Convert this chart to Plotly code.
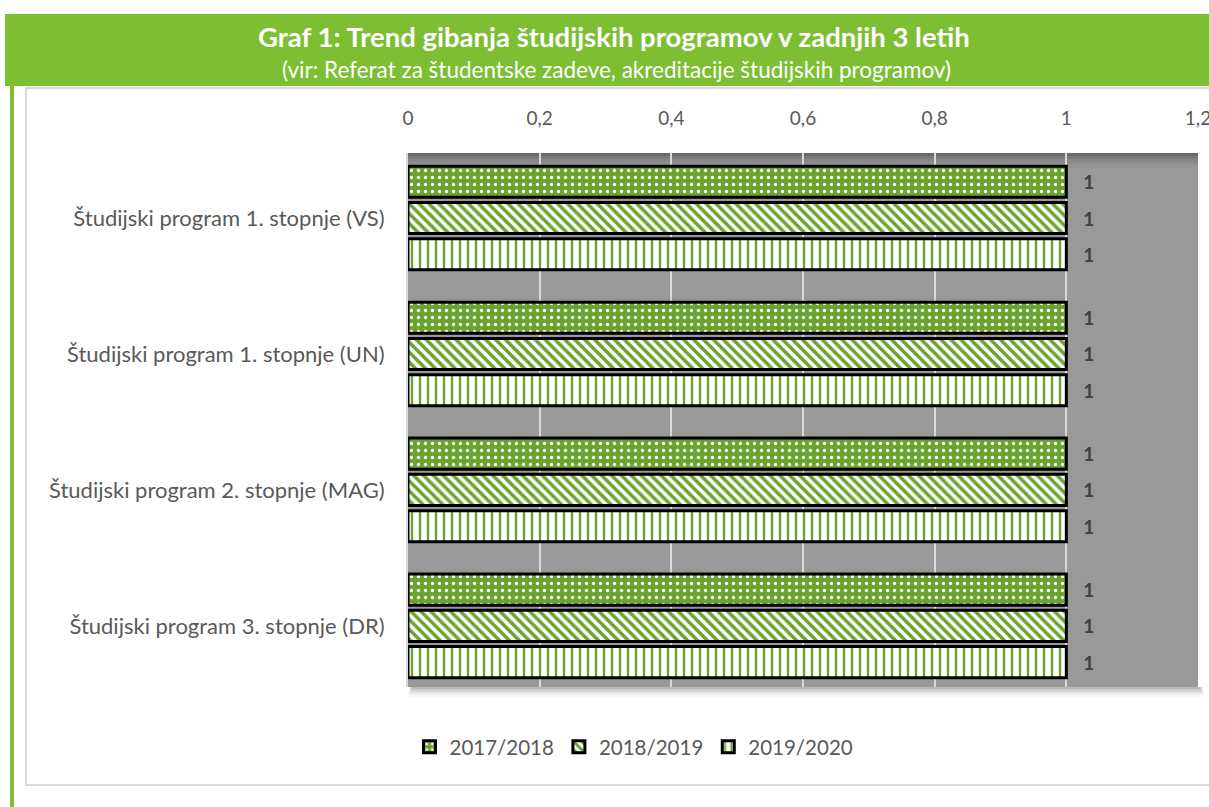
import plotly.graph_objects as go

categories = [
    "Študijski program 1. stopnje (VS)",
    "Študijski program 1. stopnje (UN)",
    "Študijski program 2. stopnje (MAG)",
    "Študijski program 3. stopnje (DR)",
]
series_names = ["2017/2018", "2018/2019", "2019/2020"]
values_2017 = [1, 1, 1, 1]
values_2018 = [1, 1, 1, 1]
values_2019 = [1, 1, 1, 1]
x_ticks = [0, 0.2, 0.4, 0.6, 0.8, 1.0, 1.2]
x_tick_labels = ["0", "0,2", "0,4", "0,6", "0,8", "1", "1,2"]

GREEN = "#6aa42e"
HEADER_GREEN = "#7dbe32"
TEXT = "#595959"
FONT = "Lato"

# figure geometry in page pixels (body margin removed via post_script)
W, H = 1209, 807
L, R, T, B = 408, 11, 153, 120
PW, PH = W - L - R, H - T - B


def px(x):
    return (x - L) / PW


def py(y):
    return 1 - (y - T) / PH


series_values = [values_2017, values_2018, values_2019]
patterns = [
    dict(shape=".", fgcolor="white", bgcolor=GREEN, size=7, solidity=0.18, fillmode="replace"),
    dict(shape="\\", fgcolor=GREEN, bgcolor="white", size=7, solidity=0.5, fillmode="replace"),
    dict(shape="|", fgcolor=GREEN, bgcolor="white", size=8, solidity=0.3, fillmode="replace"),
]
base_colors = [GREEN, "white", "white"]

fig = go.Figure()
for name, vals, pat, bc in zip(series_names, series_values, patterns, base_colors):
    fig.add_trace(go.Bar(
        y=categories, x=vals, name=name, orientation="h",
        marker=dict(color=bc, pattern=pat, line=dict(color="black", width=3)),
        text=vals, texttemplate="\u00a0\u00a0\u00a0%{x}", textposition="outside",
        textfont=dict(family=FONT, size=19, color="#404040", weight="bold"),
        cliponaxis=False,
    ))

shapes = [
    dict(type="rect", xref="paper", yref="paper", x0=px(26), x1=px(1225), y0=py(785), y1=py(88),
         line=dict(color="#d9d9d9", width=2), fillcolor="rgba(0,0,0,0)", layer="below"),
    dict(type="rect", xref="paper", yref="paper", x0=px(5), x1=px(1225), y0=py(86), y1=py(14),
         line=dict(width=0), fillcolor=HEADER_GREEN, layer="below"),
    dict(type="rect", xref="paper", yref="paper", x0=px(10), x1=px(14), y0=py(815), y1=py(86),
         line=dict(width=0), fillcolor=HEADER_GREEN, layer="below"),
]
# soft drop shadow below / right of the plot area
for i, a in enumerate([0.10, 0.08, 0.06, 0.04, 0.03]):
    shapes.append(dict(type="rect", xref="paper", yref="paper",
                       x0=px(412 - i), x1=px(1200 + i), y0=py(687 + 2 + 2 * i), y1=py(687),
                       line=dict(width=0), fillcolor=f"rgba(0,0,0,{a})", layer="below"))
# inner top shading of the plot area
for i, a in enumerate([0.12, 0.09, 0.06, 0.04, 0.02]):
    shapes.append(dict(type="rect", xref="paper", yref="paper",
                       x0=0, x1=1, y0=py(153 + 3 * (i + 1)), y1=1,
                       line=dict(width=0), fillcolor=f"rgba(0,0,0,{a})", layer="below"))

fig.update_layout(
    width=W, height=H,
    margin=dict(l=L, r=R, t=T, b=B, autoexpand=False),
    paper_bgcolor="white", plot_bgcolor="#999999",
    barmode="group", bargap=0.2, bargroupgap=0.14,
    font=dict(family=FONT, color=TEXT),
    showlegend=True,
    legend=dict(orientation="h", x=px(634), xanchor="center", y=py(747), yanchor="middle",
                font=dict(family=FONT, size=20.5, color=TEXT), traceorder="normal",
                itemwidth=30),
    shapes=shapes,
    annotations=[
        dict(text="<b>Graf 1: Trend gibanja študijskih programov v zadnjih 3 letih</b>",
             xref="paper", yref="paper", x=px(614), y=py(37),
             xanchor="center", yanchor="middle", showarrow=False,
             font=dict(family=FONT, size=27.5, color="white")),
        dict(text="(vir: Referat za študentske zadeve, akreditacije študijskih programov)",
             xref="paper", yref="paper", x=px(616), y=py(70),
             xanchor="center", yanchor="middle", showarrow=False,
             font=dict(family=FONT, size=22.5, color="white")),
    ],
)

fig.update_xaxes(
    side="top", range=[0, 1.2], tickvals=x_ticks, ticktext=x_tick_labels,
    showgrid=True, gridcolor="#d9d9d9", gridwidth=2, zeroline=False,
    tickfont=dict(family=FONT, size=19, color=TEXT), ticks="", ticklabelstandoff=23,
    ticklabeloverflow="allow", automargin=False,
    showline=False, fixedrange=True,
)
fig.update_yaxes(
    range=[3.449, -0.478], showgrid=False, zeroline=False, ticks="",
    tickfont=dict(family=FONT, size=22, color=TEXT), ticklabelstandoff=17,
    automargin=False, fixedrange=True,
    showline=True, linecolor="#d9d9d9", linewidth=2,
)

fig.write_html(
    "out.html",
    config={"displayModeBar": False},
    post_script="document.body.style.margin='0';document.body.style.overflow='hidden';",
)
